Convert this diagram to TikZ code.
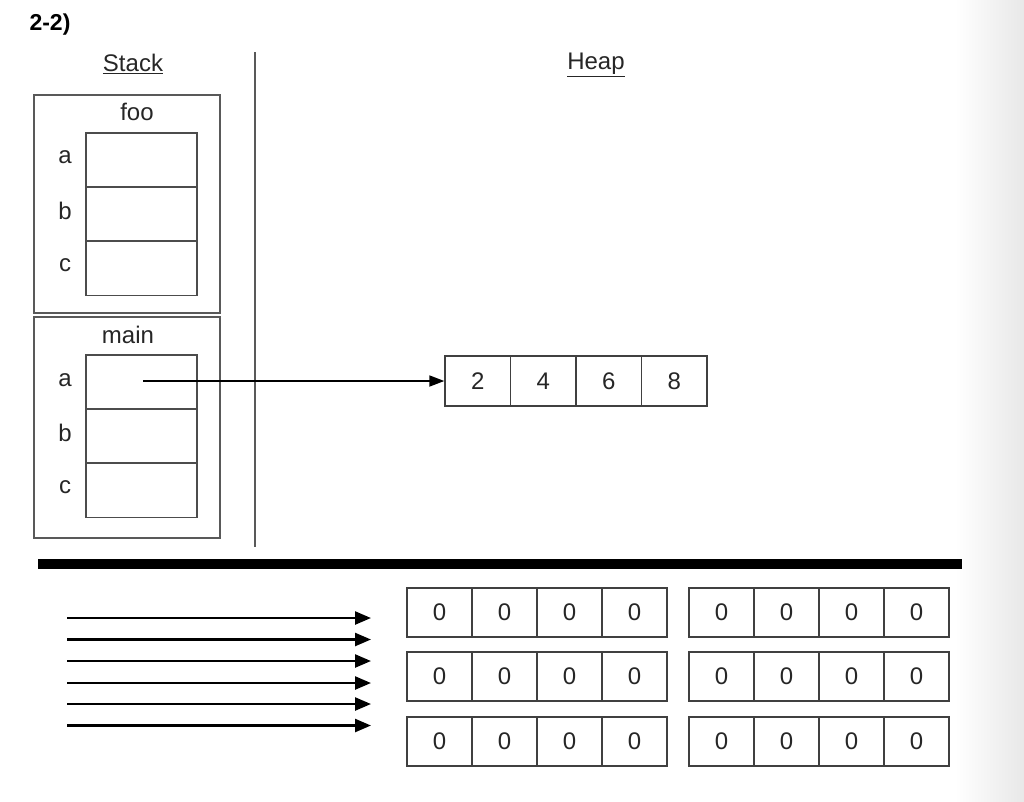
\documentclass[tikz,border=0pt]{standalone}
\usepackage{fontspec}
\setmainfont{Liberation Sans}
\usetikzlibrary{arrows.meta}
\begin{document}
\begin{tikzpicture}[x=1pt,y=-1pt,
  txt/.style={font=\fontsize{24}{28}\selectfont, text=black!85, inner sep=0pt},
  frame/.style={draw=black!65, line width=1.4pt, inner sep=0pt},
  slot/.style={draw=black!70, line width=1.4pt, minimum width=111pt, minimum height=54pt, inner sep=0pt},
  hcell/.style={draw=black!75, line width=1.4pt, minimum width=65.5pt, minimum height=50pt, inner sep=0pt, font=\fontsize{24}{28}\selectfont, text=black!85},
  zcell/.style={draw=black!75, line width=1.4pt, minimum width=65pt, minimum height=49pt, inner sep=0pt, font=\fontsize{24}{28}\selectfont, text=black!85},
  ptr/.style={line width=1.8pt, -{Triangle[length=15pt,width=11pt]}},
  mptr/.style={line width=2.4pt, -{Triangle[length=16pt,width=13pt]}}
]
\useasboundingbox (0,0) rectangle (1024,801);
\fill[white] (0,0) rectangle (1024,801);
\shade[left color=white, right color=black!9] (955,0) rectangle (1024,801);

% title
\node[txt, font=\fontsize{23}{27}\selectfont\bfseries, text=black] (title) at (50,25) {2-2)};
\node[txt] (stack) at (133,64) {\underline{Stack}};
\node[txt] (heap) at (596,65) {\underline{Heap}};

% divider
\coordinate (dtop) at (255,52);
\coordinate (dbot) at (255,547);
\draw[black!65, line width=1.3pt] (dtop) -- (dbot);

% foo frame
\node[frame, minimum width=186pt, minimum height=218pt] (fooframe) at (127,204) {};
\node[txt] (foo) at (137,112) {foo};
\node[slot] (fa) at (141.5,160) {};
\node[slot] (fb) at (141.5,214) {};
\node[slot] (fc) at (141.5,268.5) {};
\node[txt] (lfa) at (65,157) {a};
\node[txt] (lfb) at (65,211) {b};
\node[txt] (lfc) at (65,265) {c};

% main frame
\node[frame, minimum width=186pt, minimum height=221pt] (mainframe) at (127,427.5) {};
\node[txt] (main) at (128,335) {main};
\node[slot] (ma) at (141.5,382) {};
\node[slot] (mb) at (141.5,436) {};
\node[slot] (mc) at (141.5,490.5) {};
\node[txt] (lma) at (65,380) {a};
\node[txt] (lmb) at (65,433) {b};
\node[txt] (lmc) at (65,487) {c};

% heap array
\foreach \v [count=\i from 0] in {2,4,6,8}{
  \node[hcell] (h\i) at (477.75+65.5*\i,381) {\v};
}
\draw[ptr] (143,381) -- (h0.west);

% thick bar
\coordinate (bl) at (38,564);
\coordinate (br) at (962,564);
\draw[black, line width=10pt] (bl) -- (br);

% arrows
\foreach \y [count=\k] in {618,639.5,661,683,704,725.5}{
  \coordinate (s\k) at (67,\y);
  \coordinate (e\k) at (371,\y);
  \draw[mptr] (s\k) -- (e\k);
}

% zero arrays
\foreach \r/\yy in {1/612.5,2/676.5,3/741.5}{
  \foreach \i in {0,1,2,3}{
    \node[zcell] (zl\r\i) at (439.5+65*\i,\yy) {0};
    \node[zcell] (zr\r\i) at (721.5+65*\i,\yy) {0};
  }
}
\end{tikzpicture}
\end{document}
